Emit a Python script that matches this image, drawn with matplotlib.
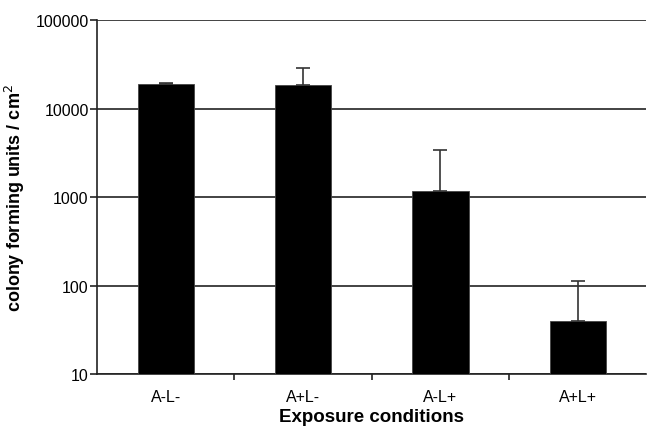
import matplotlib
matplotlib.use("Agg")
from matplotlib import pyplot as plt
from matplotlib.ticker import FixedLocator, FuncFormatter
import numpy as np

conditions = ['A-L-', 'A+L-', 'A-L+', 'A+L+']
cfu = [19000, 18300, 1175, 40]
err_upper = [300, 10800, 2220, 71]

plt.rcParams['font.family'] = ['Liberation Sans', 'DejaVu Sans']

fig = plt.figure(figsize=(6.47, 4.31), dpi=100)
ax = fig.add_axes([0.150, 0.130, 0.849, 0.821])

x = np.arange(len(conditions))
ax.bar(x, cfu, width=0.41, color='black', edgecolor='#444444', linewidth=0.6, zorder=3)
ax.errorbar(x, cfu, yerr=[np.zeros(len(cfu)), err_upper], fmt='none',
            ecolor='#333333', elinewidth=1.2, capsize=5, capthick=1.2, zorder=4)

ax.set_yscale('log')
ax.set_ylim(10, 100000)
ax.set_xlim(-0.5, len(conditions) - 0.5)

ax.yaxis.set_major_locator(FixedLocator([10, 100, 1000, 10000, 100000]))
ax.yaxis.set_minor_locator(FixedLocator([]))
ax.yaxis.set_major_formatter(FuncFormatter(lambda v, p: '%d' % v))
ax.grid(axis='y', color='#222222', linewidth=1.2, zorder=1)

# category labels centred, ticks sit between categories
ax.set_xticks(x)
ax.set_xticklabels(conditions, fontsize=11.5)
ax.tick_params(axis='x', length=0, pad=11)
ax.set_xticks(x[:-1] + 0.5, minor=True)
ax.tick_params(axis='x', which='minor', length=4, width=1.2, color='#222222')
ax.tick_params(axis='y', length=5, width=1.2, color='#222222', labelsize=11.5, pad=1)

for s in ['top', 'right']:
    ax.spines[s].set_visible(False)
for s in ['left', 'bottom']:
    ax.spines[s].set_color('#222222')
    ax.spines[s].set_linewidth(1.2)

ax.set_xlabel('Exposure conditions', fontsize=13.5, fontweight='bold', labelpad=3)
ax.set_ylabel('colony forming units / cm$^2$', fontsize=13, fontweight='bold', labelpad=6)

fig.savefig('out.png', dpi=100)
